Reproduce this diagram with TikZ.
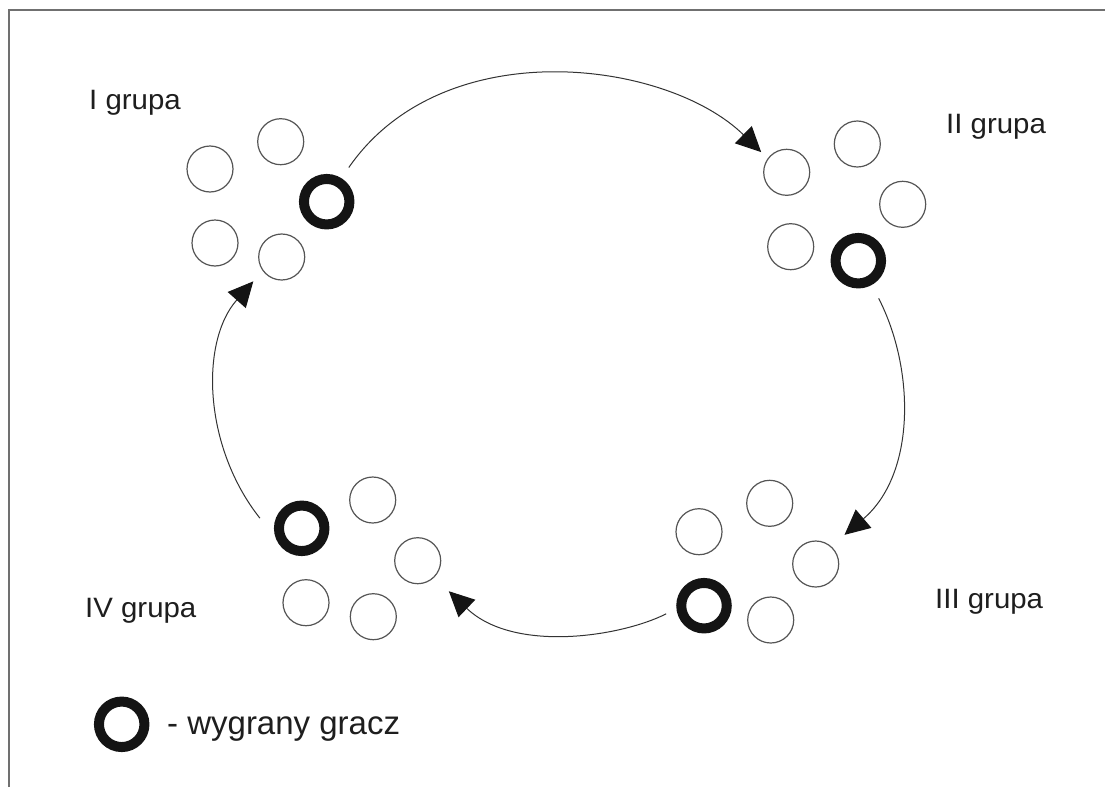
\documentclass[tikz,border=0pt]{standalone}
\usepackage{fontspec}
\setmainfont{Liberation Sans}
\newfontfamily\lbl[FakeStretch=1.05]{Liberation Sans}
\usetikzlibrary{arrows.meta}
\definecolor{ink}{HTML}{1E1E1E}
\definecolor{framec}{HTML}{707070}
\definecolor{plc}{HTML}{555555}
\begin{document}
\begin{tikzpicture}[x=1pt,y=-1pt,
  player/.style={circle,draw=plc,line width=1.2pt,minimum size=46pt,inner sep=0pt},
  winner/.style={circle,draw=black!92,line width=10pt,minimum size=45.5pt,inner sep=0pt},
  grp/.style={anchor=base west,inner sep=0pt,text=ink,font=\lbl\fontsize{28}{32}\selectfont},
  leg/.style={anchor=base west,inner sep=0pt,text=ink,font=\fontsize{33}{38}\selectfont},
  arr/.style={draw=black!80,line width=1pt,-{Triangle[length=25pt,width=24pt,color=black!92]}}]
\useasboundingbox (0,0) rectangle (1105,787);
\fill[white] (0,0) rectangle (1105,787);
\draw[framec,line width=1.5pt] (9,787) -- (9,10) -- (1105,10);
% group I
\node[player] (a1) at (280.7,141.7) {};
\node[player] (a2) at (210,169) {};
\node[player] (a3) at (215,243) {};
\node[player] (a4) at (281.7,257) {};
\node[winner] (w1) at (326.7,201.7) {};
\node[grp] (t1) at (89,109) {I grupa};
% group II
\node[player] (b1) at (786.7,172.3) {};
\node[player] (b2) at (857.3,144) {};
\node[player] (b3) at (902.7,204.3) {};
\node[player] (b4) at (790.7,246.7) {};
\node[winner] (w2) at (858.3,260.7) {};
\node[grp] (t2) at (946,133) {II grupa};
% group III
\node[player] (c1) at (699,531.7) {};
\node[player] (c2) at (769.7,503.3) {};
\node[player] (c3) at (815.7,564) {};
\node[player] (c4) at (770.7,620) {};
\node[winner] (w3) at (704,605.7) {};
\node[grp] (t3) at (935,608) {III grupa};
% group IV
\node[player] (d1) at (372.7,500) {};
\node[player] (d2) at (417.7,560.7) {};
\node[player] (d3) at (306,602.7) {};
\node[player] (d4) at (373.3,616.7) {};
\node[winner] (w4) at (301.7,528.3) {};
\node[grp] (t4) at (85,617) {IV grupa};
% legend
\node[winner] (wl) at (121.7,724.3) {};
\node[leg] (tl) at (167,734) {- wygrany gracz};
% connectors
\draw[arr,shorten <=13pt,shorten >=9pt] (w1.58) .. controls (443.6,30.6) and (667,60) .. (b1.144);
\draw[arr,shorten <=15pt,shorten >=17.5pt] (w2.-61) .. controls (915,369) and (916,474) .. (c3.49);
\draw[arr,shorten <=11.5pt,shorten >=20pt] (w3.186) .. controls (621.6,636.5) and (514,653.5) .. (d2.-45);
\draw[arr,shorten <=25.6pt,shorten >=14pt] (w4.201) .. controls (203,446.3) and (200,341.4) .. (a4.216);
\end{tikzpicture}
\end{document}
